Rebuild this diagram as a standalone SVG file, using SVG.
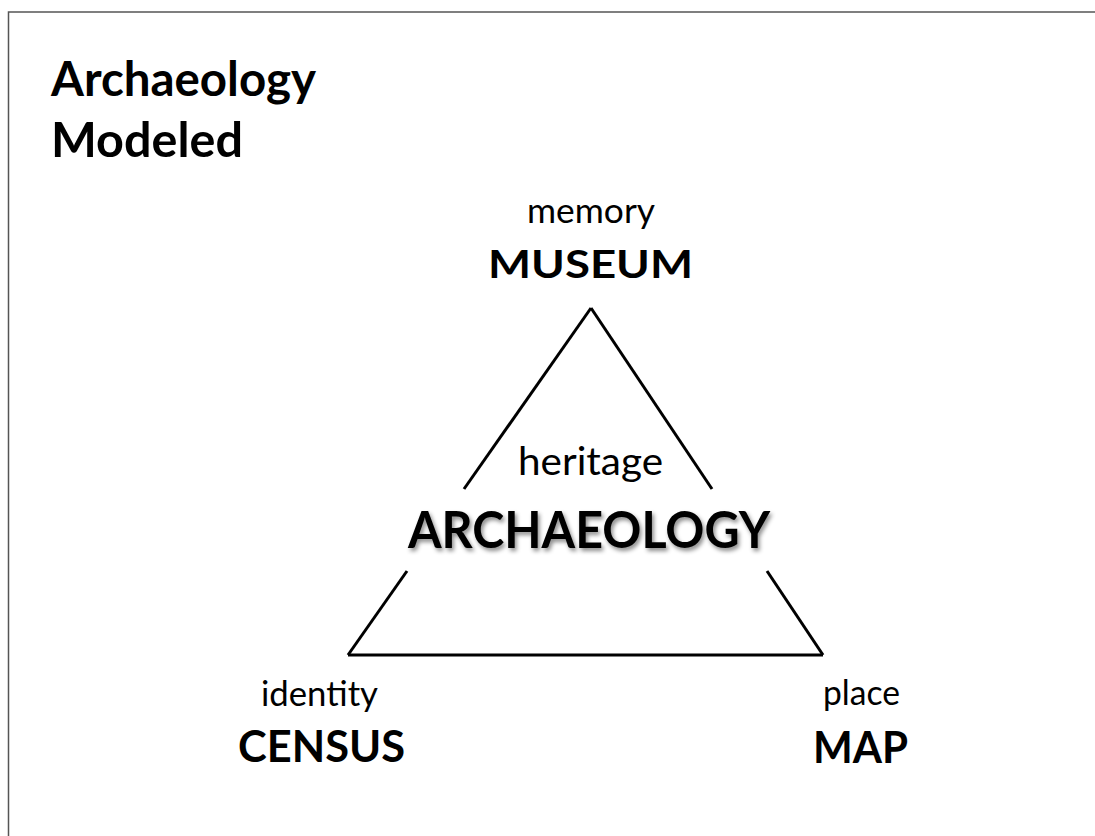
<svg xmlns="http://www.w3.org/2000/svg" width="1095" height="836" viewBox="0 0 1095 836">
<defs>
<style>
.t{font-family:Lato,"Open Sans","Liberation Sans",sans-serif;fill:#000}
.b{font-weight:bold}
.r{font-weight:normal}
.edge{stroke:#000;stroke-width:3;fill:none;stroke-linecap:butt}
</style>
<filter id="sh" x="-10%" y="-30%" width="120%" height="170%">
<feDropShadow dx="2" dy="3" stdDeviation="2" flood-color="#000" flood-opacity="0.45"/>
</filter>
</defs>
<rect x="0" y="0" width="1095" height="836" fill="#fff"/>
<path d="M8.5 840 V12 H1100" fill="none" stroke="#555" stroke-width="1.5"/>
<g id="title">
<text class="t b" x="51" y="96" font-size="48" textLength="265" lengthAdjust="spacingAndGlyphs">Archaeology</text>
<text class="t b" x="51" y="157" font-size="48" textLength="192" lengthAdjust="spacingAndGlyphs">Modeled</text>
</g>
<g id="connectors">
<line class="edge" x1="591" y1="308" x2="464" y2="489"/>
<line class="edge" x1="591" y1="308" x2="712" y2="489"/>
<line class="edge" x1="407" y1="571" x2="348" y2="655"/>
<line class="edge" x1="767" y1="571" x2="823" y2="655"/>
<line class="edge" x1="348" y1="655" x2="823" y2="655"/>
</g>
<g id="museum">
<text class="t r" x="527" y="223" font-size="34" textLength="128" lengthAdjust="spacingAndGlyphs">memory</text>
<text class="t b" x="488" y="278" font-size="39" textLength="205" lengthAdjust="spacingAndGlyphs">MUSEUM</text>
</g>
<g id="archaeology">
<text class="t r" x="518" y="475" font-size="38" textLength="145" lengthAdjust="spacingAndGlyphs">heritage</text>
<text class="t b" x="408" y="548" font-size="51" textLength="362" lengthAdjust="spacingAndGlyphs" filter="url(#sh)">ARCHAEOLOGY</text>
</g>
<g id="census">
<text class="t r" x="261" y="706" font-size="34" textLength="117" lengthAdjust="spacingAndGlyphs">identity</text>
<text class="t b" x="238" y="762" font-size="43" textLength="167" lengthAdjust="spacingAndGlyphs">CENSUS</text>
</g>
<g id="map">
<text class="t r" x="823" y="705" font-size="34" textLength="77" lengthAdjust="spacingAndGlyphs">place</text>
<text class="t b" x="813" y="763" font-size="43" textLength="95" lengthAdjust="spacingAndGlyphs">MAP</text>
</g>
</svg>
